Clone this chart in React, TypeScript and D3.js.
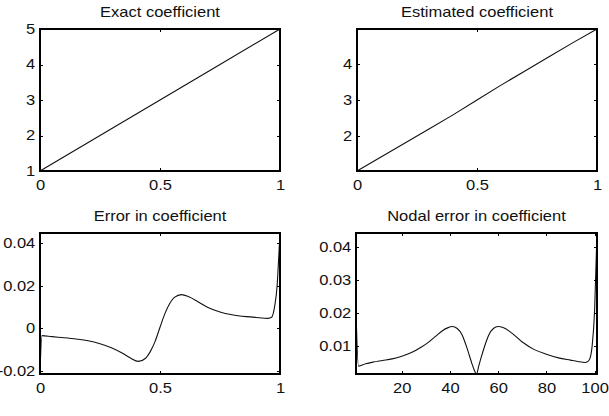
import React, { useEffect, useRef, FC } from 'react';
import * as d3 from 'd3';

// ---- data ----
const exactX = [0, 0.25, 0.5, 0.75, 1];
const exactY = [1, 2, 3, 4, 5];

const estX = [0, 0.1, 0.2, 0.3, 0.4, 0.5, 0.6, 0.7, 0.8, 0.9, 1];
const estY = [1.02, 1.41, 1.8, 2.19, 2.585, 3.0, 3.415, 3.81, 4.205, 4.6, 4.98];

const errX = [
  0, 0.008, 0.05, 0.1, 0.15, 0.2, 0.25, 0.3, 0.344, 0.375, 0.41, 0.44, 0.46,
  0.48, 0.5, 0.52, 0.54, 0.56, 0.59, 0.62, 0.66, 0.7, 0.75, 0.8, 0.86, 0.9,
  0.95, 0.965, 0.978, 0.988, 0.995, 1,
];
const errY = [
  -0.0212, -0.0034, -0.0039, -0.0044, -0.005, -0.0058, -0.0072, -0.0092,
  -0.0117, -0.0138, -0.0155, -0.014, -0.0108, -0.006, 0.0005, 0.0068, 0.0115,
  0.0145, 0.0158, 0.0148, 0.0124, 0.0098, 0.0077, 0.0064, 0.0055, 0.0051,
  0.0047, 0.0052, 0.0105, 0.02, 0.034, 0.0447,
];

const nodeX = [
  1, 2, 5, 8, 12, 16, 20, 24, 28, 31, 34, 37, 39, 41, 43, 45, 46, 47, 48, 49,
  50, 51, 52, 53, 54, 55, 56, 58, 60, 62, 65, 70, 75, 80, 85, 90, 93, 96, 97,
  98, 99, 100, 101,
];
const nodeY = [
  0.0205, 0.0038, 0.0045, 0.005, 0.0055, 0.006, 0.0068, 0.0079, 0.0095, 0.011,
  0.0128, 0.0146, 0.0154, 0.0158, 0.0152, 0.0133, 0.0115, 0.0094, 0.0071,
  0.0048, 0.0027, 0.0014, 0.004, 0.0066, 0.009, 0.0112, 0.0131, 0.0152,
  0.0158, 0.0155, 0.0142, 0.0111, 0.0088, 0.0074, 0.0063, 0.0056, 0.0052,
  0.0049, 0.0051, 0.006, 0.01, 0.0205, 0.0442,
];

const ticks01 = [0, 0.5, 1];
const ticksExact = [1, 2, 3, 4, 5];
const ticksEst = [2, 3, 4];
const ticksErr = [-0.02, 0, 0.02, 0.04];
const ticksNodeX = [20, 40, 60, 80, 100];
const ticksNodeY = [0.01, 0.02, 0.03, 0.04];

const FONT = "'Liberation Sans', Arial, Helvetica, sans-serif";
const STRETCH = 'scale(1.18,1)';

const fmt = (d: d3.NumberValue) => String(+(+d).toFixed(3));

type Box = { left: number; right: number; top: number; bottom: number };

interface PanelProps {
  box: Box;
  title: string;
  xs: number[];
  ys: number[];
  xDomain: [number, number];
  yDomain: [number, number];
  xTicks: number[];
  yTicks: number[];
  smooth?: boolean;
}

const Panel: FC<PanelProps> = ({ box, title, xs, ys, xDomain, yDomain, xTicks, yTicks, smooth }) => {
  const axRef = useRef<SVGGElement | null>(null);

  const x = d3.scaleLinear().domain(xDomain).range([box.left, box.right]);
  const y = d3.scaleLinear().domain(yDomain).range([box.bottom, box.top]);

  useEffect(() => {
    const g = d3.select(axRef.current);
    g.selectAll('*').remove();
    const none = () => '';

    const style = (sel: d3.Selection<SVGGElement, unknown, null, undefined>) => {
      sel.select('.domain').remove();
      sel.attr('font-family', FONT).attr('font-size', 14);
      sel.selectAll('line').attr('stroke', '#000').attr('shape-rendering', 'crispEdges');
      sel.selectAll('text').attr('fill', '#111').attr('transform', STRETCH);
    };

    g.append('g')
      .attr('transform', `translate(0,${box.bottom})`)
      .call(d3.axisBottom(x).tickValues(xTicks).tickSizeInner(-3).tickSizeOuter(0).tickPadding(9).tickFormat(fmt))
      .call(style);
    g.append('g')
      .attr('transform', `translate(0,${box.top})`)
      .call(d3.axisTop(x).tickValues(xTicks).tickSizeInner(-3).tickSizeOuter(0).tickFormat(none))
      .call(style);
    g.append('g')
      .attr('transform', `translate(${box.left},0)`)
      .call(d3.axisLeft(y).tickValues(yTicks).tickSizeInner(-3).tickSizeOuter(0).tickPadding(4).tickFormat(fmt))
      .call(style);
    g.append('g')
      .attr('transform', `translate(${box.right},0)`)
      .call(d3.axisRight(y).tickValues(yTicks).tickSizeInner(-3).tickSizeOuter(0).tickFormat(none))
      .call(style);
  }, [box, xTicks, yTicks]);

  const pts: [number, number][] = xs.map((v, i) => [v, ys[i]]);
  const line = d3
    .line<[number, number]>()
    .x((d) => x(d[0]))
    .y((d) => y(d[1]))
    .curve(smooth ? d3.curveMonotoneX : d3.curveLinear);

  return (
    <g>
      <text
        transform={`translate(${(box.left + box.right) / 2},${box.top - 12}) ${STRETCH}`}
        textAnchor="middle"
        fontFamily={FONT}
        fontSize={14}
        fill="#111"
      >
        {title}
      </text>
      <path d={line(pts) || ''} fill="none" stroke="#111" strokeWidth={1.1} />
      <rect
        x={box.left}
        y={box.top}
        width={box.right - box.left}
        height={box.bottom - box.top}
        fill="none"
        stroke="#000"
        strokeWidth={1.2}
        shapeRendering="crispEdges"
      />
      <g ref={axRef} />
    </g>
  );
};

const App: FC = () => {
  return (
    <svg width={609} height={416} style={{ position: 'absolute', left: 0, top: 0, background: '#fff' }}>
      <Panel
        box={{ left: 40, right: 280, top: 29, bottom: 171 }}
        title="Exact coefficient"
        xs={exactX}
        ys={exactY}
        xDomain={[0, 1]}
        yDomain={[1, 5]}
        xTicks={ticks01}
        yTicks={ticksExact}
      />
      <Panel
        box={{ left: 357, right: 597, top: 29, bottom: 171 }}
        title="Estimated coefficient"
        xs={estX}
        ys={estY}
        xDomain={[0, 1]}
        yDomain={[1.02, 4.98]}
        xTicks={ticks01}
        yTicks={ticksEst}
      />
      <Panel
        box={{ left: 40, right: 280, top: 233, bottom: 374 }}
        title="Error in coefficient"
        xs={errX}
        ys={errY}
        xDomain={[0, 1]}
        yDomain={[-0.0214, 0.0447]}
        xTicks={ticks01}
        yTicks={ticksErr}
        smooth
      />
      <Panel
        box={{ left: 356, right: 597, top: 233, bottom: 374 }}
        title="Nodal error in coefficient"
        xs={nodeX}
        ys={nodeY}
        xDomain={[1, 101]}
        yDomain={[0.0014, 0.0442]}
        xTicks={ticksNodeX}
        yTicks={ticksNodeY}
        smooth
      />
    </svg>
  );
};

export default App;
